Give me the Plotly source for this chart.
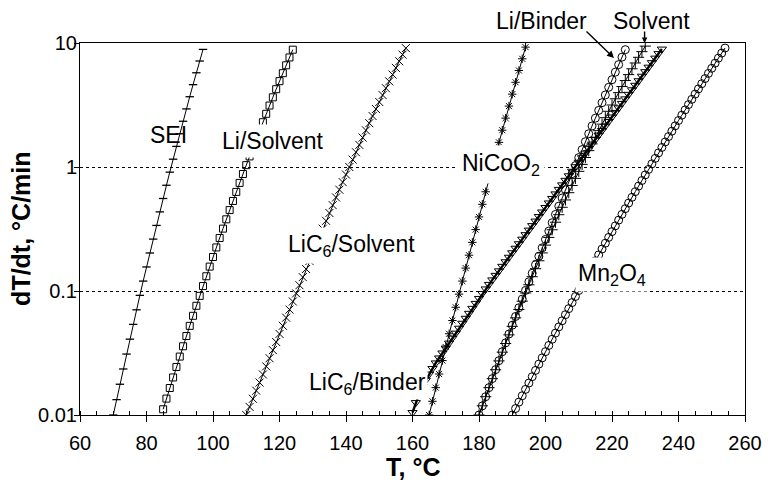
import plotly.graph_objects as go

# Self-heating rate dT/dt (°C/min) versus temperature T (°C) for each reaction

sei_T = list(range(70, 98))
sei_rate = [0.0100, 0.0133, 0.0177, 0.0235, 0.0310, 0.0409, 0.0538, 0.0705, 0.0922, 0.1202,
            0.1563, 0.2026, 0.2621, 0.3379, 0.4345, 0.5572, 0.7124, 0.9087, 1.156, 1.466,
            1.854, 2.338, 2.940, 3.688, 4.613, 5.754, 7.157, 8.878]

li_solvent_T = list(range(85, 125))
li_solvent_rate = [0.01112, 0.01356, 0.01651, 0.02009, 0.02440, 0.02959, 0.03583, 0.04334, 0.05233, 0.06309,
                   0.07599, 0.09134, 0.1096, 0.1315, 0.1573, 0.1880, 0.2245, 0.2676, 0.3185, 0.3785,
                   0.4493, 0.5323, 0.6298, 0.7442, 0.8781, 1.035, 1.217, 1.430, 1.677, 1.965,
                   2.298, 2.685, 3.131, 3.647, 4.241, 4.924, 5.711, 6.611, 7.645, 8.830]

lic6_solvent_T = list(range(110, 159))
lic6_solvent_rate = [0.0100, 0.01162, 0.01351, 0.01571, 0.01826, 0.02123, 0.02468, 0.02870, 0.03336, 0.03878,
                     0.04508, 0.05241, 0.06093, 0.07083, 0.08234, 0.09572, 0.1113, 0.1294, 0.1504, 0.1748,
                     0.2032, 0.2361, 0.2741, 0.3178, 0.3680, 0.4258, 0.4922, 0.5683, 0.6555, 0.7551,
                     0.8690, 0.9990, 1.147, 1.316, 1.508, 1.727, 1.975, 2.256, 2.575, 2.935,
                     3.342, 3.802, 4.320, 4.904, 5.561, 6.300, 7.126, 8.055, 9.096]

nicoo2_T = list(range(165, 195))
nicoo2_rate = [0.0100, 0.01290, 0.01662, 0.02140, 0.02749, 0.03528, 0.04520, 0.05785, 0.07393, 0.09434,
               0.1202, 0.1530, 0.1944, 0.2467, 0.3127, 0.3958, 0.5003, 0.6313, 0.7960, 1.002,
               1.259, 1.580, 1.981, 2.479, 3.099, 3.868, 4.823, 6.003, 7.461, 9.262]

lic6_binder_T = list(range(160, 236))
lic6_binder_rate = [0.01047, 0.01259, 0.01479, 0.01698, 0.01905, 0.02138, 0.02371, 0.02630, 0.02884, 0.03162,
                    0.03467, 0.03802, 0.04169, 0.04571, 0.05012, 0.05495, 0.06026, 0.06607, 0.07244, 0.07943,
                    0.08710, 0.09550, 0.1039, 0.1130, 0.1229, 0.1337, 0.1454, 0.1581, 0.1720, 0.1871,
                    0.2034, 0.2213, 0.2406, 0.2618, 0.2847, 0.3097, 0.3368, 0.3664, 0.3985, 0.4335,
                    0.4715, 0.5129, 0.5578, 0.6067, 0.6600, 0.7178, 0.7808, 0.8492, 0.9237, 1.005,
                    1.093, 1.189, 1.293, 1.406, 1.530, 1.663, 1.809, 1.968, 2.140, 2.328,
                    2.532, 2.754, 2.996, 3.258, 3.544, 3.855, 4.194, 4.560, 4.961, 5.395,
                    5.869, 6.383, 6.943, 7.551, 8.213, 8.933]

li_binder_T = list(range(180, 225))
li_binder_rate = [0.01000, 0.01185, 0.01404, 0.01662, 0.01965, 0.02323, 0.02743, 0.03237, 0.03817, 0.04497,
                  0.05297, 0.06233, 0.07328, 0.08607, 0.1011, 0.1186, 0.1390, 0.1628, 0.1906, 0.2230,
                  0.2606, 0.3043, 0.3553, 0.4144, 0.4829, 0.5623, 0.6544, 0.7610, 0.8843, 1.027,
                  1.191, 1.381, 1.600, 1.853, 2.143, 2.477, 2.861, 3.303, 3.810, 4.391,
                  5.058, 5.822, 6.695, 7.692, 8.834]

solvent_T = list(range(180, 231))
solvent_rate = [0.01000, 0.01186, 0.01405, 0.01662, 0.01964, 0.02317, 0.02730, 0.03212, 0.03774, 0.04427,
                0.05188, 0.06070, 0.07093, 0.08277, 0.09643, 0.1122, 0.1304, 0.1513, 0.1753, 0.2028,
                0.2344, 0.2705, 0.3118, 0.3587, 0.4124, 0.4732, 0.5423, 0.6206, 0.7091, 0.8094,
                0.9226, 1.050, 1.193, 1.355, 1.536, 1.738, 1.964, 2.217, 2.499, 2.813,
                3.162, 3.550, 3.979, 4.455, 4.980, 5.559, 6.197, 6.900, 7.670, 8.516,
                9.441]

mn2o4_T = list(range(190, 255))
mn2o4_rate = [0.01000, 0.01127, 0.01270, 0.01429, 0.01609, 0.01810, 0.02036, 0.02289, 0.02572, 0.02888,
              0.03243, 0.03639, 0.04083, 0.04578, 0.05132, 0.05751, 0.06441, 0.07211, 0.08070, 0.09027,
              0.1009, 0.1128, 0.1260, 0.1407, 0.1571, 0.1753, 0.1955, 0.2180, 0.2429, 0.2706,
              0.3013, 0.3353, 0.3730, 0.4148, 0.4612, 0.5125, 0.5693, 0.6321, 0.7016, 0.7782,
              0.8630, 0.9566, 1.060, 1.174, 1.300, 1.438, 1.591, 1.759, 1.944, 2.147,
              2.371, 2.618, 2.888, 3.186, 3.513, 3.870, 4.263, 4.695, 5.167, 5.684,
              6.252, 6.873, 7.551, 8.294, 9.106]

x_ticks = [60, 80, 100, 120, 140, 160, 180, 200, 220, 240, 260]
y_tickvals = [0.01, 0.1, 1, 10]
y_ticktext = ["0.01", "0.1", "1", "10"]

FONT = "Liberation Sans, Arial, sans-serif"
INK = "black"

fig = go.Figure()


def add_series(T, rate, symbol, size, line_width=1.0, marker_line=1.0):
    fig.add_trace(go.Scatter(
        x=T, y=rate, mode="lines+markers",
        line=dict(color=INK, width=line_width),
        marker=dict(symbol=symbol, size=size, color=INK,
                    line=dict(color=INK, width=marker_line)),
        hoverinfo="x+y",
    ))


add_series(sei_T, sei_rate, "line-ew", 6, 1.0, 1.3)
add_series(li_solvent_T, li_solvent_rate, "square-open", 7)
add_series(lic6_solvent_T, lic6_solvent_rate, "x-thin", 8, 1.0, 1.0)
add_series(nicoo2_T, nicoo2_rate, "asterisk", 7, 1.0, 1.0)
add_series(mn2o4_T, mn2o4_rate, "circle-open", 8)
add_series(li_binder_T, li_binder_rate, "circle-open", 8)
add_series(solvent_T, solvent_rate, "cross-thin", 8, 1.0, 1.0)
add_series(lic6_binder_T, lic6_binder_rate, "triangle-down-open", 8, 2.4, 1.0)

LABEL_SIZE = 23


def label(text, x, y, bg=True, pad=4, ref="x"):
    fig.add_annotation(
        x=x, y=y, xref="x" if ref == "x" else "paper", yref="y" if ref == "x" else "paper",
        text=text, showarrow=False,
        font=dict(family=FONT, size=LABEL_SIZE, color=INK),
        bgcolor="white" if bg else "rgba(0,0,0,0)", borderpad=pad,
        xanchor="center", yanchor="middle",
    )


# series names inside the plot (y given as log10 of the rate)
label("SEI", 86.7, 0.258, bg=False)
label("Li/Solvent", 118.1, 0.21, pad=3)
label("LiC<sub>6</sub>/Solvent", 141.8, -0.629, pad=3)
label("NiCoO<sub>2</sub>", 186.5, 0.024, pad=4)
label("Mn<sub>2</sub>O<sub>4</sub>", 220.0, -0.863, pad=2)
label("LiC<sub>6</sub>/Binder", 146.4, -1.742, pad=1)

# series names above the frame (paper coordinates)
label("Li/Binder", 0.6933, 1.0591, bg=False, ref="paper")
label("Solvent", 0.8593, 1.0591, bg=False, ref="paper")

# pointers from the two top labels to their curves
fig.add_annotation(x=220.6, y=0.879, xref="x", yref="y", text="", showarrow=True,
                   ax=-29, ay=-28, arrowhead=2, arrowsize=1, arrowwidth=1.4,
                   arrowcolor=INK, standoff=0)
fig.add_annotation(x=229.8, y=1.0, xref="x", yref="y", text="", showarrow=True,
                   ax=0, ay=-13, arrowhead=2, arrowsize=0.8, arrowwidth=1.4,
                   arrowcolor=INK, standoff=0)

# axis titles
fig.add_annotation(x=0.5, y=(415 - 467) / 372, xref="paper", yref="paper",
                   text="<b>T, °C</b>", showarrow=False,
                   font=dict(family=FONT, size=25, color=INK),
                   xanchor="center", yanchor="middle")
fig.add_annotation(x=(20 - 80) / 675, y=0.5, xref="paper", yref="paper",
                   text="<b>dT/dt, °C/min</b>", showarrow=False, textangle=-90,
                   font=dict(family=FONT, size=25, color=INK),
                   xanchor="center", yanchor="middle")

fig.update_layout(
    width=774, height=485,
    margin=dict(l=80, r=19, t=43, b=70),
    plot_bgcolor="white", paper_bgcolor="white",
    showlegend=False,
    font=dict(family=FONT, size=20, color=INK),
)

fig.update_xaxes(
    range=[60, 260], tickmode="array", tickvals=x_ticks,
    ticks="outside", ticklen=6, tickwidth=1, tickcolor=INK,
    showline=True, linecolor=INK, linewidth=1, mirror=True,
    showgrid=False, zeroline=False, ticklabelstandoff=4,
    tickfont=dict(family=FONT, size=20, color=INK),
    minor=dict(dtick=5, tick0=60, ticks="inside", ticklen=4, tickwidth=1,
               tickcolor=INK, showgrid=False),
)

fig.update_yaxes(
    type="log", range=[-2, 1], tickmode="array",
    tickvals=y_tickvals, ticktext=y_ticktext,
    ticks="outside", ticklen=5, tickwidth=1, tickcolor=INK,
    showline=True, linecolor=INK, linewidth=1, mirror=True,
    showgrid=True, gridcolor=INK, gridwidth=1, griddash="3px,3px",
    zeroline=False, ticklabelstandoff=-7,
    tickfont=dict(family=FONT, size=20, color=INK),
)

fig.write_html("out.html")
